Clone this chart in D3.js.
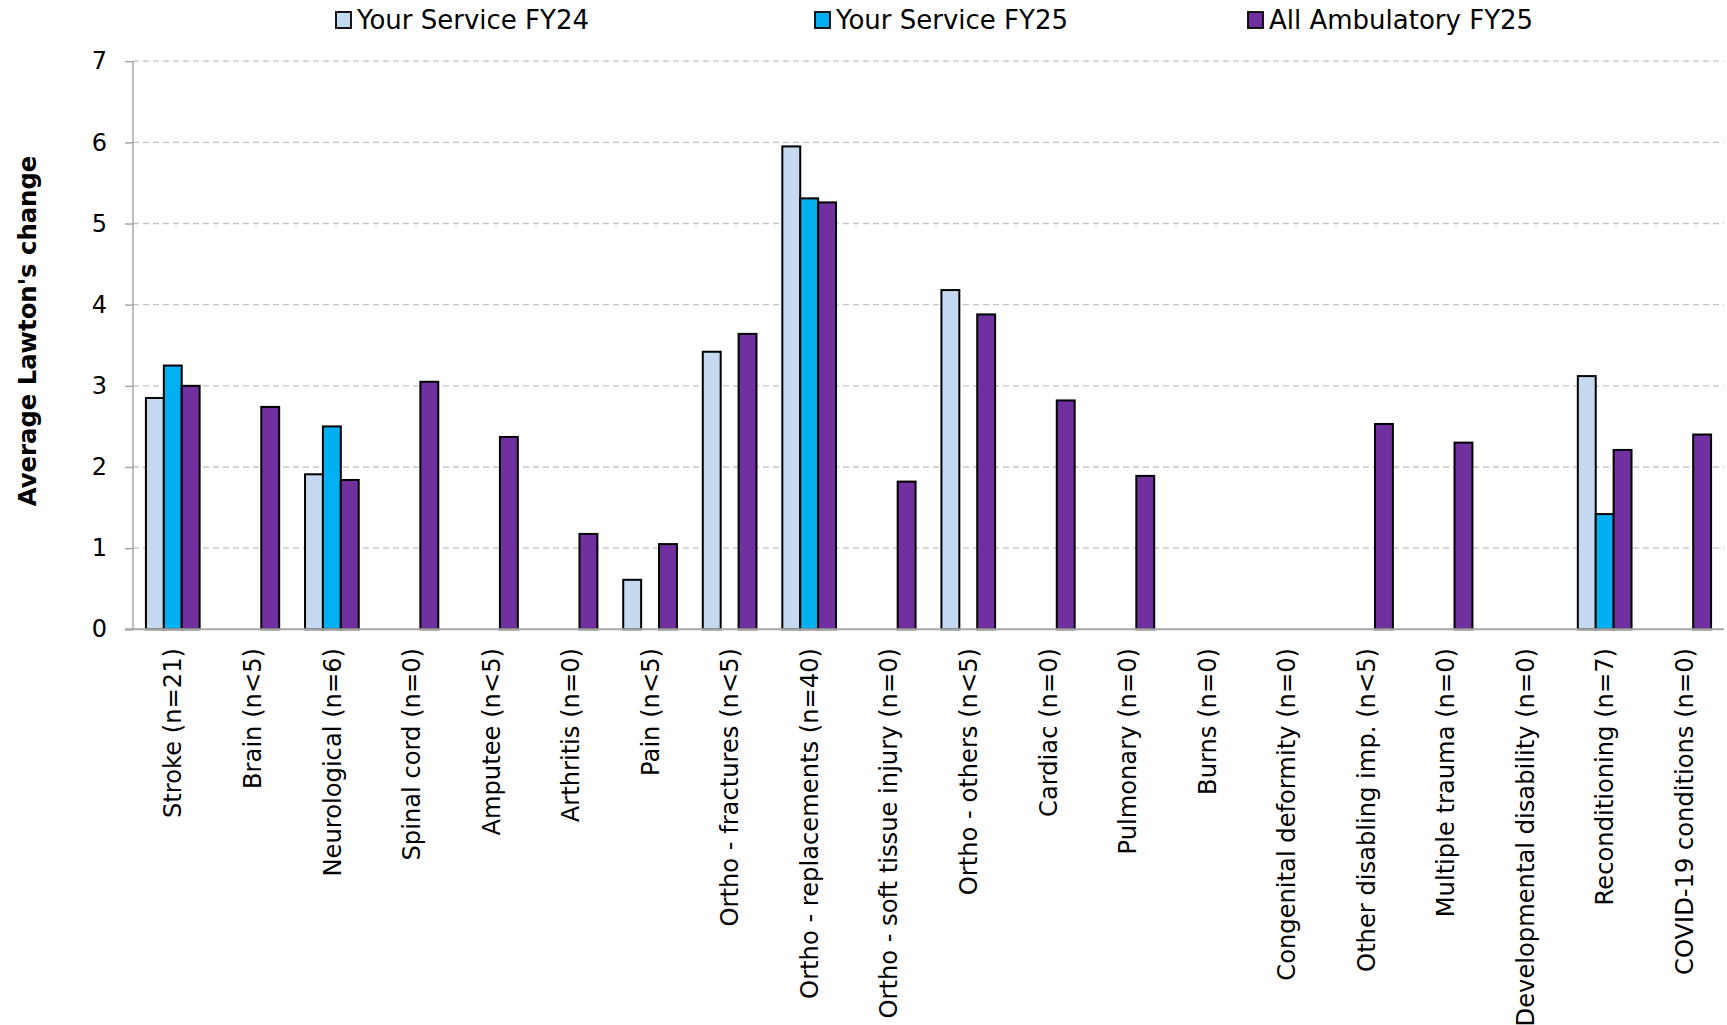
<!DOCTYPE html>
<html>
<head>
<meta charset="utf-8">
<script src="https://cdn.jsdelivr.net/npm/d3@7"></script>
<style>
  html, body { margin: 0; padding: 0; background: #fff; }
  svg { display: block; }
  text { font-family: "DejaVu Sans", sans-serif; fill: #000; }
</style>
</head>
<body>
<svg id="chart" width="1727" height="1025"></svg>
<script>
const categories = [
  "Stroke (n=21)", "Brain (n<5)", "Neurological (n=6)", "Spinal cord (n=0)", "Amputee (n<5)",
  "Arthritis (n=0)", "Pain (n<5)", "Ortho - fractures (n<5)", "Ortho - replacements (n=40)",
  "Ortho - soft tissue injury (n=0)", "Ortho - others (n<5)", "Cardiac (n=0)", "Pulmonary (n=0)",
  "Burns (n=0)", "Congenital deformity (n=0)", "Other disabling imp. (n<5)", "Multiple trauma (n=0)",
  "Developmental disability (n=0)", "Reconditioning (n=7)", "COVID-19 conditions (n=0)"
];
const seriesNames = ["Your Service FY24", "Your Service FY25", "All Ambulatory FY25"];
const serviceFY24 = [2.85, null, 1.91, null, null, null, 0.61, 3.42, 5.95, null, 4.18, null, null, null, null, null, null, null, 3.12, null];
const serviceFY25 = [3.25, null, 2.50, null, null, null, null, null, 5.31, null, null, null, null, null, null, null, null, null, 1.42, null];
const allAmbFY25  = [3.00, 2.74, 1.84, 3.05, 2.37, 1.175, 1.05, 3.64, 5.26, 1.82, 3.88, 2.82, 1.89, null, null, 2.53, 2.30, null, 2.21, 2.40];
const yTicks = [0, 1, 2, 3, 4, 5, 6, 7];
const yTitle = "Average Lawton's change";
const colors = ["#C5D9F1", "#00B0F0", "#7030A0"];

const series = [serviceFY24, serviceFY25, allAmbFY25];
const svg = d3.select("#chart");

const x0 = 133, x1 = 1724, yBase = 629.3, yTop = 61.2;
const x = d3.scaleBand().domain(categories).range([x0, x1]).paddingInner(0.325).paddingOuter(0.1625);
const xs = d3.scaleBand().domain(seriesNames).range([0, x.bandwidth()]);
const y = d3.scaleLinear().domain([0, 7]).range([yBase, yTop]);

// gridlines
svg.append("g").selectAll("line").data(yTicks.filter(d => d > 0)).join("line")
  .attr("x1", x0).attr("x2", x1)
  .attr("y1", d => y(d)).attr("y2", d => y(d))
  .attr("stroke", "#c4c4c4").attr("stroke-width", 1.3).attr("stroke-dasharray", "6,4");

// y axis
const yAxis = svg.append("g").attr("transform", `translate(${x0},0)`)
  .call(d3.axisLeft(y).tickValues(yTicks).tickSize(8).tickPadding(18).tickFormat(d3.format("d")));
yAxis.select(".domain").attr("stroke", "#a6a6a6").attr("stroke-width", 1.5).attr("d", `M0,${yTop}V${yBase}`);
yAxis.selectAll(".tick line").attr("stroke", "#a6a6a6").attr("stroke-width", 1.5);
yAxis.selectAll(".tick text").style("font-family", '"DejaVu Sans", sans-serif').style("font-size", "24px").attr("fill", "#000");

// bars
const flat = [];
categories.forEach((c, i) => series.forEach((s, j) => {
  if (s[i] !== null) flat.push({ c, name: seriesNames[j], v: s[i], j });
}));
svg.append("g").selectAll("rect").data(flat).join("rect")
  .attr("x", d => x(d.c) + xs(d.name))
  .attr("y", d => y(d.v))
  .attr("width", xs.bandwidth())
  .attr("height", d => yBase - y(d.v))
  .attr("fill", d => colors[d.j])
  .attr("stroke", "#000").attr("stroke-width", 2);

// x axis baseline
svg.append("line").attr("x1", x0 - 8).attr("x2", x1).attr("y1", yBase).attr("y2", yBase)
  .attr("stroke", "#a6a6a6").attr("stroke-width", 2);

// category labels
svg.append("g").selectAll("text").data(categories).join("text")
  .attr("transform", d => `translate(${x(d) + x.bandwidth() / 2},648) rotate(-90)`)
  .attr("text-anchor", "end").attr("dy", "0.36em")
  .style("font-size", "24.2px")
  .text(d => d);

// y title
svg.append("text")
  .attr("transform", "translate(27,331) rotate(-90)")
  .attr("text-anchor", "middle").attr("dy", "0.36em")
  .style("font-size", "24.3px").style("font-weight", "bold")
  .text(yTitle);

// legend
const legX = [336, 815, 1248];
const leg = svg.append("g").selectAll("g").data(seriesNames).join("g")
  .attr("transform", (d, i) => `translate(${legX[i]},12)`);
leg.append("rect").attr("width", 15).attr("height", 16)
  .attr("fill", (d, i) => colors[i]).attr("stroke", "#000").attr("stroke-width", 1.8);
leg.append("text").attr("x", 21).attr("y", 8).attr("dy", "0.36em")
  .style("font-size", "26px").text(d => d);
</script>
</body>
</html>
